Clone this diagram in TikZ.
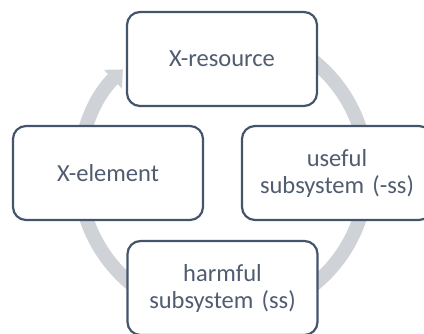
\documentclass[tikz,border=0pt]{standalone}
\usepackage{fontspec}
\setmainfont{Carlito}[WordSpace=0.75]
\usetikzlibrary{arrows.meta}
\definecolor{boxline}{HTML}{44546A}
\definecolor{boxtext}{HTML}{505C70}
\definecolor{cyclegray}{HTML}{CFD2D6}
\tikzset{
  stage/.style={draw=boxline, line width=2.2pt, fill=white, rounded corners=13pt,
    minimum width=190pt, minimum height=94pt, inner sep=0pt,
    text width=180pt, align=center, text=boxtext,
    font=\fontsize{24.5}{27}\selectfont},
  cycle/.style={draw=cyclegray, line width=14pt,
    -{Triangle[width=25pt,length=14pt]}}
}
\begin{document}
\begin{tikzpicture}[x=1pt,y=-1pt]
  \useasboundingbox (0,0) rectangle (424,334);
  \clip (0,0) rectangle (424,334);
  \coordinate (hub) at (223,173);
  % circular flow behind the stages
  \draw[cycle] ([shift={(95:144pt)}]hub) arc[start angle=95, end angle=-226, radius=144pt];
  % the four stages
  \node[stage] (res)  at (222,59)  {X-resource};
  \node[stage] (elem) at (108,173) {X-element};
  \node[stage] (use)  at (337,173) {useful\\subsystem (-ss)};
  \node[stage] (harm) at (222.5,288) {harmful\\subsystem (ss)};
\end{tikzpicture}
\end{document}
